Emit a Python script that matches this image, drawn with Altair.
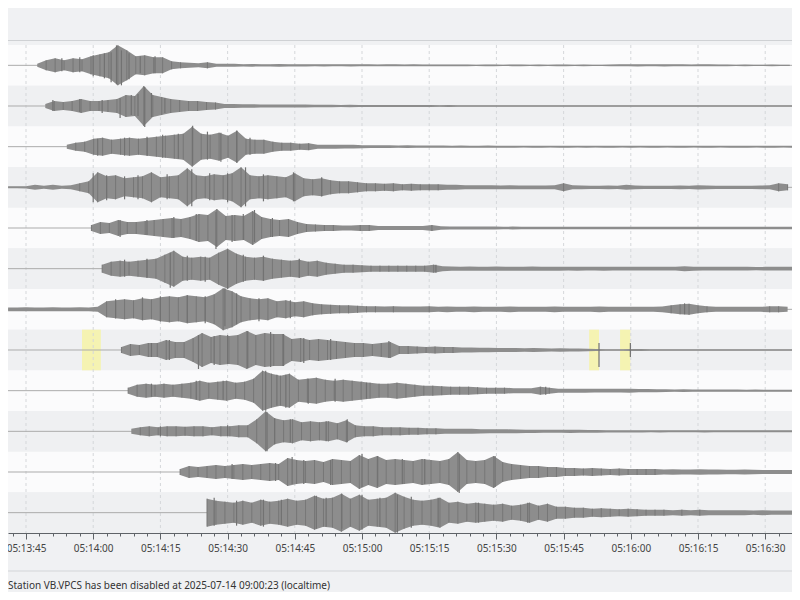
import altair as alt
import pandas as pd

# ---------------- data ----------------
ORIGIN = "2025-07-14 05:13:45"          # time of the 05:13:45 tick (UTC clock shown)
STEP = 2.0                              # seconds between envelope samples

# half peak-to-peak amplitude of each trace (screen-pixel-like units), every 2 s from its onset
T1_ONSET = 2.5
T1 = [1.5, 5, 7, 5, 7, 6, 9, 11, 13, 20, 15, 9, 10, 8, 8, 4, 3, 2.5, 2, 3,
      1.5, 1.5, 1.5, 1.2, 1.3, 1.2, 1.2, 1.3, 1.1, 1.2, 1.1, 1.0, 1.1, 1.0, 1.0, 1.1, 1.0, 1.0, 0.9, 1.0,
      1.0, 0.9, 1.0, 0.8, 0.8, 0.9, 0.8, 0.8, 0.8, 0.7, 0.8, 0.8, 0.7, 0.8, 0.8, 0.7, 0.8, 0.7, 0.8, 0.8,
      0.7, 0.8, 0.7, 0.7, 0.8, 1.0, 1.0, 1.1, 1.0, 1.0, 1.1, 1.0, 1.0, 0.9, 1.0, 1.0, 0.8, 0.8, 0.7, 0.8,
      0.7, 0.7, 0.8, 0.7, 0.7]
T2_ONSET = 4.3
T2 = [2, 5, 4, 5, 7, 5, 5, 6, 7, 11, 10, 20, 11, 9, 7, 6, 5, 5, 4, 3.5,
      2, 2, 1.8, 1.8, 1.6, 1.5, 1.6, 1.5, 1.5, 1.4, 1.3, 1.2, 1.2, 1.1, 1.2, 1.0, 1.1, 1.0, 1.0, 1.1,
      1.0, 1.0, 0.9, 1.0, 0.8, 0.9, 0.8, 0.8, 0.8, 0.7, 0.8, 0.8, 0.7, 0.8, 0.7, 0.8, 0.7, 0.7, 0.8, 0.7,
      0.7, 0.8, 0.7, 0.7, 0.8, 0.7, 0.7, 0.7, 0.8, 0.7, 0.7, 0.7, 0.8, 0.7, 0.7, 0.7, 0.8, 0.7, 0.7, 0.7,
      0.7, 0.7, 0.7, 0.7, 0.7]
T3_ONSET = 9.1
T3 = [2, 4, 5, 8, 9, 7, 8, 9, 8, 9, 10, 11, 12, 13, 20, 13, 12, 14, 11, 16,
      8, 7, 7, 5, 4, 4, 3, 3.5, 2, 2, 2, 1.8, 1.8, 1.5, 1.4, 1.3, 1.4, 1.2, 1.3, 1.2,
      1.2, 1.1, 1.2, 1.0, 1.1, 1.0, 1.0, 1.1, 1.0, 1.0, 1.0, 0.9, 1.0, 1.0, 0.9, 1.0, 1.0, 0.9, 1.0, 0.9,
      1.0, 1.0, 0.9, 1.0, 0.9, 1.0, 1.0, 0.9, 1.0, 1.0, 0.9, 1.0, 1.0, 0.9, 1.0, 1.0, 1.0, 0.9, 1.0, 1.0,
      0.9, 1.0]
T4_ONSET = -4.0
T4 = [1, 1, 1.2, 2.5, 1.5, 2.5, 1.5, 2, 4, 6, 15, 11, 12, 9, 10, 11, 15, 10, 11, 12,
      19, 12, 11, 13, 12, 14, 20, 12, 11, 12, 11, 10, 14, 9, 8, 9, 7, 6, 6, 5,
      4, 4, 3.5, 4, 3, 3.5, 3, 3, 3, 2.5, 2.5, 2, 2, 2, 2, 1.8, 2, 1.8, 1.8, 1.8,
      1.8, 2, 4, 2, 1.8, 1.6, 1.6, 1.8, 1.6, 2.5, 1.8, 1.6, 1.6, 1.6, 1.6, 1.8, 1.6, 2.2, 1.8, 1.6,
      1.6, 1.6, 1.6, 1.6, 1.8, 2, 4, 3]
T5_ONSET = 14.6
T5 = [3, 6, 5, 8, 6, 6, 7, 8, 9, 10, 9, 11, 14, 13, 19, 12, 13, 12, 17, 11,
      9, 8, 9, 6, 4, 3.5, 3, 3, 2.5, 2.5, 3, 3, 2, 2, 2, 2, 2, 2, 3, 1.8,
      1.6, 1.5, 1.5, 1.4, 1.5, 1.4, 1.3, 1.4, 1.3, 1.3, 1.3, 1.2, 1.3, 1.2, 1.3, 1.2, 1.2, 1.3, 1.2, 1.2,
      1.2, 1.3, 1.2, 1.2, 1.2, 1.3, 1.2, 1.2, 1.2, 1.2, 1.2, 1.2, 1.3, 1.2, 1.2, 1.2, 1.2, 1.2, 1.2, 1.2]
T6_ONSET = 17.0
T6 = [4, 7, 8, 7, 8, 9, 10, 14, 18, 12, 11, 12, 11, 16, 20, 15, 12, 11, 12, 10,
      9, 8, 9, 7, 8, 6, 5, 4, 4, 3.5, 3, 3, 3, 3, 3, 3, 3, 4, 2.5, 2.2,
      2, 2.2, 2, 2, 2.2, 2, 2, 2, 2.2, 2, 2, 2, 1.8, 2, 1.8, 1.8, 2, 1.8, 1.8, 1.8,
      1.8, 1.8, 1.8, 1.8, 1.8, 2.5, 2, 1.8, 1.8, 1.8, 1.8, 1.8, 1.8, 1.6, 1.8, 1.8, 1.8, 1.8]
T7_ONSET = -4.0
T7 = [1.8, 1.8, 2, 1.8, 1.8, 2, 1.8, 1.8, 2, 1.8, 2.5, 8, 9, 10, 9, 11, 10, 12, 13, 12,
      14, 13, 12, 15, 21, 18, 13, 11, 10, 11, 8, 9, 7, 8, 6, 5, 4.5, 4, 4, 3.5,
      3, 3, 2.8, 3, 2.8, 2.8, 2.8, 3, 2.5, 2.8, 2.5, 2.5, 2.8, 2.5, 2.5, 2.5, 2.8, 2.5, 2.5, 2.5,
      2.5, 2.8, 2.5, 2.5, 2.5, 2.5, 2.8, 2.5, 2.5, 2.5, 2.5, 2.5, 2.5, 2.8, 4, 5, 5.5, 4, 3, 2.5,
      2.5, 2.5, 2.5, 2.5, 2.5, 3, 3, 2.5]
T8_ONSET = 21.3
T8 = [3, 6, 5, 7, 7, 10, 8, 8, 12, 17, 13, 15, 14, 15, 19, 15, 17, 16, 16, 11,
      12, 10, 11, 10, 9, 8, 7, 7, 6, 7, 8, 4, 4, 3.5, 3, 3.5, 3, 3, 2.5, 2.5,
      2.2, 2.2, 2, 2, 2, 1.8, 2, 1.8, 1.6, 1.8, 1.6, 1.5, 1.2, 1.0, 0.8, 0.8, 0.8, 1.0, 0.9, 0.8,
      0.8, 0.8, 0.7, 0.8, 0.7, 0.7, 0.7, 0.8, 0.7, 0.7, 0.7, 0.7, 0.7, 0.7, 0.7, 0.7]
T9_ONSET = 22.8
T9 = [3, 6, 7, 6, 7, 6, 7, 8, 10, 8, 9, 10, 8, 9, 12, 20, 17, 15, 17, 11,
      12, 13, 11, 10, 11, 10, 9, 8, 7, 7, 8, 7, 6, 5, 5, 4.5, 4, 4, 4, 3.5,
      3, 3, 3, 2.5, 2.5, 2.5, 4, 3, 2, 2, 2, 2, 1.8, 1.8, 1.8, 1.8, 2, 1.6, 1.6, 1.5,
      1.3, 1.2, 1.3, 1.2, 1.2, 1.1, 1.2, 1.1, 1.1, 1.0, 1.1, 1.0, 1.0, 1.0, 1.0, 1.0]
T10_ONSET = 23.5
T10 = [2.5, 4, 5, 4, 5, 5, 4.5, 5, 5, 4, 5, 5, 6, 6, 12, 20, 13, 11, 12, 9,
       10, 9, 10, 8, 11, 6, 5, 5, 4, 4, 4, 3.5, 3.5, 3, 3, 2.5, 2.5, 2.5, 2.5, 2.2,
       2, 2, 2, 1.8, 1.6, 1.6, 1.5, 1.5, 1.5, 1.6, 1.5, 1.4, 1.3, 1.2, 1.2, 1.2, 1.1, 1.1, 1.0, 1.1,
       1.0, 1.0, 1.0, 1.0, 1.1, 1.0, 1.0, 1.0, 1.0, 1.0, 1.0, 1.0, 1.0, 1.0, 1.0]
T11_ONSET = 34.4
T11 = [3, 6, 5, 6, 7, 6, 7, 8, 7, 8, 9, 8, 14, 12, 11, 12, 10, 13, 12, 11,
       17, 13, 16, 12, 13, 12, 11, 13, 12, 11, 13, 20, 12, 11, 12, 16, 10, 8, 7, 6,
       6, 5, 5, 4, 4, 3.5, 4, 3.5, 3, 3.5, 3, 3, 3, 3, 2.5, 2.8, 2.5, 2.5, 2.8, 2.5,
       2.5, 2.2, 2.2, 2.5, 2.2, 2, 2, 2, 2, 2]
T12_ONSET = 40.4
T12 = [14, 12, 11, 10, 12, 10, 13, 11, 12, 14, 12, 13, 17, 14, 15, 19, 14, 18, 13, 14,
       15, 20, 16, 13, 12, 13, 15, 10, 11, 9, 10, 9, 8, 9, 7, 8, 10, 7, 9, 6,
       6, 5, 5, 4, 4.5, 4, 3.5, 4, 3.5, 3, 3, 3, 2.5, 3, 2.5, 3, 2.5, 2.5, 2.5, 2.5,
       2.5, 2.2, 2.5, 2.2, 2.2, 2.2, 2.2]

TRACES = [(T1_ONSET, T1), (T2_ONSET, T2), (T3_ONSET, T3), (T4_ONSET, T4),
          (T5_ONSET, T5), (T6_ONSET, T6), (T7_ONSET, T7), (T8_ONSET, T8),
          (T9_ONSET, T9), (T10_ONSET, T10), (T11_ONSET, T11), (T12_ONSET, T12)]

# single sharp swings: (row, seconds after ORIGIN, reach above, reach below the baseline)
SPIKES = [
    (0, 8.0, 7, 6), (0, 12.0, 8, 7), (0, 15.0, 10, 11), (0, 17.5, 12, 13), (0, 19.0, 13, 17),
    (0, 20.2, 20, 19), (0, 21.3, 15, 20), (0, 23.0, 12, 14), (0, 25.5, 9, 8), (0, 28.8, 9, 8),
    (1, 6.0, 6, 5), (1, 12.0, 7, 6), (1, 17.0, 6, 7), (1, 21.0, 8, 12), (1, 23.5, 11, 9),
    (1, 25.0, 12, 10), (1, 26.5, 19, 21), (1, 28.0, 13, 11), (1, 31.0, 8, 7),
    (2, 16.0, 8, 9), (2, 22.0, 9, 9), (2, 27.0, 10, 9), (2, 30.5, 12, 11), (2, 34.0, 13, 12),
    (2, 37.2, 21, 18), (2, 40.5, 15, 13), (2, 43.5, 14, 15), (2, 47.0, 16, 16), (2, 50.0, 9, 8),
    (3, 15.0, 14, 15), (3, 18.0, 12, 13), (3, 22.0, 11, 12), (3, 25.0, 12, 12), (3, 31.5, 13, 12),
    (3, 37.0, 18, 19), (3, 41.0, 14, 13), (3, 45.0, 14, 15), (3, 49.0, 20, 19), (3, 53.0, 13, 14),
    (3, 59.7, 15, 14), (3, 66.0, 10, 9),
    (4, 21.0, 8, 9), (4, 27.0, 8, 7), (4, 33.0, 11, 10), (4, 38.0, 14, 13), (4, 42.4, 16, 21),
    (4, 46.0, 13, 14), (4, 48.5, 14, 12), (4, 51.0, 18, 14), (4, 55.0, 10, 9),
    (5, 22.0, 9, 8), (5, 27.0, 10, 9), (5, 32.2, 16, 19), (5, 36.0, 13, 12), (5, 40.0, 12, 13),
    (5, 45.0, 18, 20), (5, 48.5, 14, 13), (5, 53.0, 13, 12), (5, 61.0, 10, 9), (5, 91.5, 4, 4),
    (6, 20.0, 10, 9), (6, 26.0, 12, 10), (6, 30.0, 13, 12), (6, 36.0, 14, 13), (6, 40.0, 13, 14),
    (6, 44.4, 21, 17), (6, 47.0, 16, 15), (6, 52.0, 11, 12), (6, 59.0, 9, 9), (6, 147.0, 6, 5),
    (7, 28.0, 7, 7), (7, 32.0, 10, 10), (7, 38.5, 15, 19), (7, 42.0, 14, 15), (7, 45.0, 15, 14),
    (7, 49.5, 19, 18), (7, 54.6, 18, 17), (7, 57.5, 16, 16), (7, 62.0, 12, 13), (7, 68.0, 11, 10),
    (7, 81.0, 9, 8), (7, 127.9, 7, 17), (7, 134.9, 7, 7),
    (8, 28.0, 7, 6), (8, 38.0, 10, 9), (8, 44.0, 10, 9), (8, 53.5, 20, 20), (8, 56.0, 16, 15),
    (8, 58.0, 16, 17), (8, 63.0, 12, 13), (8, 69.0, 12, 11), (8, 76.0, 8, 8), (8, 116.0, 4, 4),
    (9, 30.0, 5, 5), (9, 45.0, 6, 5), (9, 53.8, 19, 20), (9, 55.5, 13, 13), (9, 59.0, 12, 11),
    (9, 67.0, 10, 10), (9, 71.7, 12, 11),
    (10, 46.0, 8, 7), (10, 55.7, 9, 9), (10, 59.4, 15, 12), (10, 62.0, 12, 12), (10, 68.0, 12, 13),
    (10, 75.0, 18, 15), (10, 78.5, 16, 14), (10, 84.0, 13, 12), (10, 89.0, 13, 12), (10, 96.7, 18, 21),
    (10, 104.7, 16, 15),
    (11, 42.0, 15, 13), (11, 47.0, 12, 13), (11, 53.0, 13, 14), (11, 57.0, 13, 12), (11, 64.8, 17, 16),
    (11, 67.0, 15, 14), (11, 70.5, 19, 16), (11, 75.0, 18, 17), (11, 79.0, 15, 14), (11, 82.9, 18, 20),
    (11, 86.0, 16, 15), (11, 92.0, 15, 14), (11, 101.0, 10, 10), (11, 112.0, 10, 10),
]

# highlighted (yellow) spans on trace 8: (row, start s, end s)
GAPS = [(7, 12.5, 16.7), (7, 125.7, 127.9), (7, 132.6, 134.9)]

# axis: ticks every 3 s, labels every 15 s
TICK_START, TICK_END, TICK_EVERY = -3, 171, 3
MAJOR_EVERY = 15
VIEW_START, VIEW_END = -4.02, 170.98

STATUS_TEXT = "Station VB.VPCS has been disabled at 2025-07-14 09:00:23 (localtime)"
N_ROWS = 12

# ---------------- build tables ----------------
base_ms = pd.Timestamp(ORIGIN, tz="UTC").value // 10**6


def to_ms(sec):
    return base_ms + sec * 1000.0


trace_rows = []
for r, (onset, amps) in enumerate(TRACES):
    for k, a in enumerate(amps):
        trace_rows.append({"row": r, "ms": to_ms(onset + STEP * k), "a": a})
trace_df = pd.DataFrame(trace_rows)

band_df = pd.DataFrame({
    "row": list(range(N_ROWS)),
    "row_end": [r + 1 for r in range(N_ROWS)],
    "mid": [r + 0.5 for r in range(N_ROWS)],
    "shade": ["light" if r % 2 == 0 else "dark" for r in range(N_ROWS)],
})

spike_df = pd.DataFrame(SPIKES, columns=["row", "t", "up", "down"])
spike_df["ms"] = [to_ms(t) for t in spike_df["t"]]

gap_df = pd.DataFrame(GAPS, columns=["row", "s0", "s1"])
gap_df["row_end"] = gap_df["row"] + 1
gap_df["t0"] = [to_ms(t) for t in gap_df["s0"]]
gap_df["t1"] = [to_ms(t) for t in gap_df["s1"]]

tick_ms = [to_ms(s) for s in range(TICK_START, TICK_END, TICK_EVERY)]
major_df = pd.DataFrame({"ms": [to_ms(s) for s in range(0, TICK_END, MAJOR_EVERY)]})

# ---------------- chart ----------------
W, H = 784, 488
ROW_PX = H / N_ROWS
GAIN = 1.0 / ROW_PX
TRACE_GREY = "#8d8d8d"

xscale = alt.Scale(type="utc", domain=[to_ms(VIEW_START), to_ms(VIEW_END)], nice=False)
yscale = alt.Scale(domain=[0, N_ROWS], reverse=True, nice=False, zero=False)

MAJOR_TEST = f"(datum.value / 1000) % {MAJOR_EVERY} == 0"
xaxis = alt.Axis(
    values=tick_ms,
    labelExpr=f"{MAJOR_TEST} ? utcFormat(datum.value, '%H:%M:%S') : ''",
    tickSize={"condition": {"test": MAJOR_TEST, "value": 6}, "value": 3},
    grid=False, title=None,
    domainColor="#5f6368", tickColor="#5f6368", domainWidth=1, tickWidth=1,
    labelColor="#444444", labelFont="Noto Sans", labelFontSize=10,
    labelPadding=4, labelOverlap=False, labelFlush=False,
)


def X(field):
    return alt.X(field, scale=xscale, axis=xaxis)


def Y(field):
    return alt.Y(field, scale=yscale, axis=None)


bands = alt.Chart(band_df).mark_rect().encode(
    x=alt.value(0), x2=alt.value(W),
    y=Y("row:Q"), y2="row_end:Q",
    color=alt.Color("shade:N", scale=alt.Scale(domain=["light", "dark"],
                                               range=["#fbfbfc", "#eff0f2"]), legend=None),
)

gaps = alt.Chart(gap_df).mark_rect(color="#f5f3b2").encode(
    x=X("t0:T"), x2="t1:T", y=Y("row:Q"), y2="row_end:Q",
)

grid = alt.Chart(major_df).mark_rule(color="#d5d7da", strokeDash=[3, 3], strokeWidth=1).encode(
    x=X("ms:T"),
)

baselines = alt.Chart(band_df).mark_rule(color="#ababab", strokeWidth=1).encode(
    y=Y("mid:Q"),
)

trace_base = alt.Chart(trace_df).transform_calculate(
    lo=f"datum.row + 0.5 - datum.a * {GAIN}",
    hi=f"datum.row + 0.5 + datum.a * {GAIN}",
)
areas = trace_base.mark_area(color=TRACE_GREY, interpolate="linear", clip=True).encode(
    x=X("ms:T"), y=Y("lo:Q"), y2="hi:Q", detail="row:N",
)
sample_strokes = trace_base.transform_filter("datum.a >= 3").mark_rule(
    color="#777777", strokeWidth=1, clip=True
).encode(x=X("ms:T"), y=Y("lo:Q"), y2="hi:Q")

spikes = alt.Chart(spike_df).transform_calculate(
    top=f"datum.row + 0.5 - datum.up * {GAIN}",
    bot=f"datum.row + 0.5 + datum.down * {GAIN}",
).mark_rule(color="#727272", strokeWidth=1.2).encode(
    x=X("ms:T"), y=Y("top:Q"), y2="bot:Q",
)

one = pd.DataFrame({"k": [0]})
header_line = alt.Chart(one).mark_rule(color="#cfd1d4", strokeWidth=1).encode(
    x=alt.value(0), x2=alt.value(W), y=alt.value(-4.5))
footer_line = alt.Chart(one).mark_rule(color="#d3d5d8", strokeWidth=1).encode(
    x=alt.value(0), x2=alt.value(W), y=alt.value(38 + H))
footer_text = alt.Chart(one).mark_text(
    align="left", baseline="alphabetic", font="Noto Sans", fontSize=10, color="#333333"
).encode(x=alt.value(0), y=alt.value(56 + H), text=alt.value(STATUS_TEXT))

chart = alt.layer(
    bands, gaps, grid, baselines, areas, sample_strokes, spikes,
    header_line, footer_line, footer_text
).properties(
    width=W, height=H,
    padding={"left": 0, "right": 0, "top": 37, "bottom": 59},
    autosize=alt.AutoSizeParams(type="none"),
).configure(background="#f0f1f3").configure_view(stroke=None)

chart.save("out.html", embed_options={"renderer": "svg", "actions": False})
